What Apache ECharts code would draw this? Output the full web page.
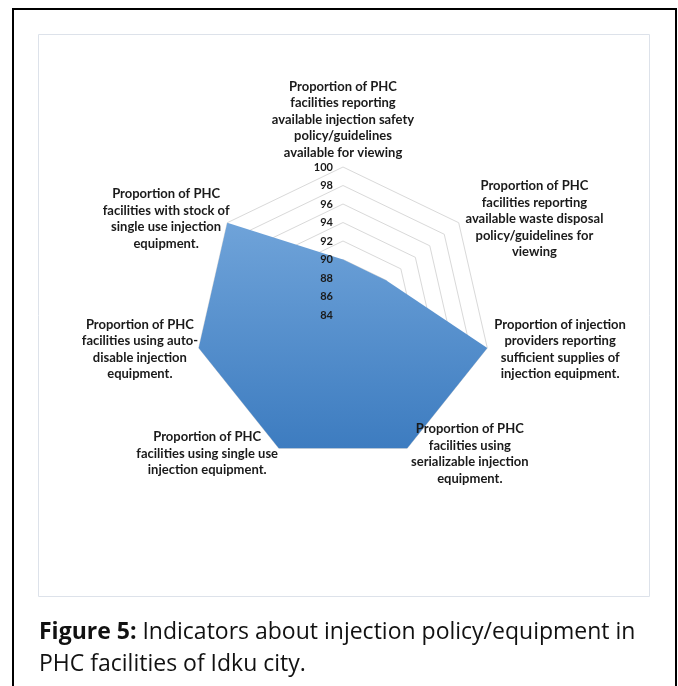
<!DOCTYPE html>
<html>
<head>
<meta charset="utf-8">
<script src="https://cdn.jsdelivr.net/npm/echarts@6/dist/echarts.min.js"></script>
<style>
  html, body { margin: 0; padding: 0; background: #fff; }
  #chart { width: 678px; height: 686px; }
</style>
</head>
<body>
<div id="chart"></div>
<script>
// Indicator labels, clockwise from the top
const indicatorNames = [
  'Proportion of PHC\nfacilities reporting\navailable injection safety\npolicy/guidelines\navailable for viewing',
  'Proportion of PHC\nfacilities reporting\navailable waste disposal\npolicy/guidelines for\nviewing',
  'Proportion of injection\nproviders reporting\nsufficient supplies of\ninjection equipment.',
  'Proportion of PHC\nfacilities using\nserializable injection\nequipment.',
  'Proportion of PHC\nfacilities using single use\ninjection equipment.',
  'Proportion of PHC\nfacilities using auto-\ndisable injection\nequipment.',
  'Proportion of PHC\nfacilities with stock of\nsingle use injection\nequipment.'
];

// Percentage values per indicator (same clockwise order)
const indicatorValues = [90, 90, 100, 100, 100, 100, 100];

// Value scale of the rings
const scaleMin = 84;
const scaleMax = 100;
const scaleTicks = ['84', '86', '88', '90', '92', '94', '96', '98', '100'];

// Width of each label box, clockwise order (lines are centred inside it)
const nameBoxWidth = [170, 142, 134, 120, 138, 106, 113];

const FONT = 'Lato, "Open Sans", sans-serif';
const CAPTION_FONT = '"Open Sans", sans-serif';
const center = [343, 315];
const radius = 148;

// ECharts lays indicators out counter-clockwise; walk the list backwards
// after the first so they run clockwise on screen.
const order = indicatorNames.map((_, i) => (i === 0 ? 0 : indicatorNames.length - i));
const orderedNames = order.map(i => indicatorNames[i]);
const orderedValues = order.map(i => indicatorValues[i]);
const indicators = orderedNames.map(n => ({ name: n, min: scaleMin, max: scaleMax }));

const rich = {};
indicatorNames.forEach((n, i) => {
  rich['n' + i] = {
    width: nameBoxWidth[i],
    align: 'center',
    fontFamily: FONT,
    fontWeight: 'bold',
    fontSize: 13,
    lineHeight: 16.5,
    color: '#1a1a1a'
  };
});

const hidden = {
  axisLine: { show: false },
  axisTick: { show: false },
  splitArea: { show: false }
};

const chart = echarts.init(document.getElementById('chart'), null, { renderer: 'canvas' });

const option = {
  animation: false,
  backgroundColor: '#ffffff',
  textStyle: { fontFamily: FONT },
  title: {
    left: 34,
    top: 611,
    text: '{b|Figure 5:} Indicators about injection policy/equipment in\nPHC facilities of Idku city.',
    textStyle: {
      fontFamily: CAPTION_FONT,
      fontSize: 23,
      fontWeight: 'normal',
      color: '#111',
      lineHeight: 32,
      rich: {
        b: { fontFamily: CAPTION_FONT, fontSize: 23, fontWeight: 'bold', color: '#111', lineHeight: 32 }
      }
    }
  },
  graphic: [
    {
      type: 'rect',
      z: -10,
      shape: { x: 13, y: 9, width: 663, height: 690 },
      style: { fill: 'none', stroke: '#000', lineWidth: 2 }
    },
    {
      type: 'rect',
      z: -10,
      shape: { x: 38.5, y: 34.5, width: 611, height: 562 },
      style: { fill: 'none', stroke: '#dde2ea', lineWidth: 1 }
    }
  ],
  radar: [
    {
      // grid rings, beneath the filled area
      center: center,
      radius: radius,
      startAngle: 90,
      splitNumber: scaleTicks.length - 1,
      shape: 'polygon',
      z: 0,
      indicator: indicators,
      axisName: { show: false },
      axisLabel: { show: false },
      ...hidden,
      splitLine: { lineStyle: { color: '#d9d9d9', width: 1 } }
    },
    {
      // indicator names, above the filled area
      center: center,
      radius: radius,
      startAngle: 90,
      splitNumber: scaleTicks.length - 1,
      shape: 'polygon',
      z: 5,
      indicator: indicators,
      nameGap: 6,
      axisName: {
        color: '#1a1a1a',
        fontFamily: FONT,
        fontWeight: 'bold',
        fontSize: 13,
        formatter: function (name) {
          const i = indicatorNames.indexOf(name);
          return name.split('\n').map(l => '{n' + i + '|' + l + '}').join('\n');
        },
        rich: rich
      },
      axisLabel: { show: false },
      ...hidden,
      splitLine: { show: false }
    },
    {
      // value labels on the vertical axis, above the filled area
      center: center,
      radius: radius,
      startAngle: 90,
      splitNumber: scaleTicks.length - 1,
      z: 5,
      indicator: [{ name: '', min: scaleMin, max: scaleMax }],
      axisName: { show: false },
      ...hidden,
      splitLine: { show: false },
      axisLabel: {
        show: true,
        margin: 10,
        fontFamily: FONT,
        fontWeight: 'bold',
        fontSize: 11,
        color: '#1a1a1a',
        formatter: v => scaleTicks[Math.round((v - scaleMin) / 2)]
      }
    }
  ],
  series: [
    {
      type: 'radar',
      radarIndex: 0,
      z: 2,
      symbol: 'none',
      lineStyle: { width: 0 },
      areaStyle: {
        opacity: 1,
        color: new echarts.graphic.LinearGradient(0, 0, 0, 1, [
          { offset: 0, color: '#6fa3d9' },
          { offset: 1, color: '#3d7cc0' }
        ])
      },
      data: [{ value: orderedValues }]
    }
  ]
};

chart.setOption(option);
</script>
</body>
</html>
